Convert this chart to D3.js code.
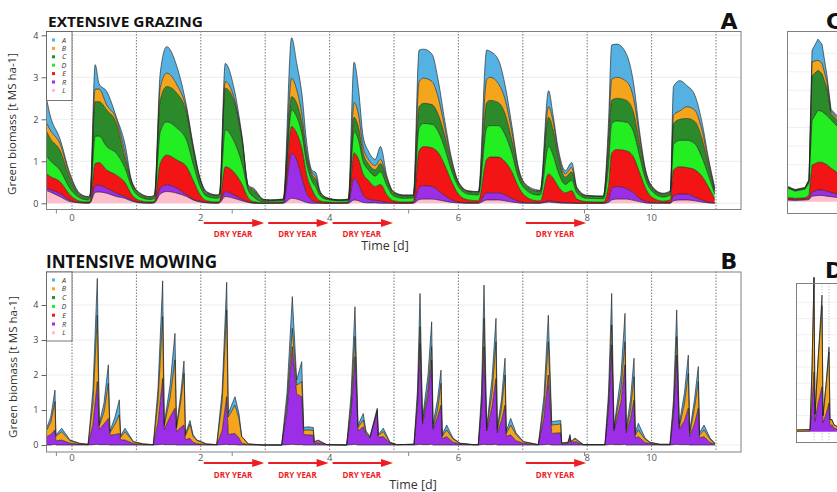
<!DOCTYPE html>
<html>
<head>
<meta charset="utf-8">
<title>Green biomass</title>
<script src="https://cdn.jsdelivr.net/npm/d3@7/dist/d3.min.js"></script>
<style>
  body { margin: 0; background: #fff; }
  svg { display: block; font-family: "Open Sans", "DejaVu Sans", sans-serif; }
</style>
</head>
<body>
<svg id="fig" width="837" height="492"></svg>
<script>
// legend order, top of the stack first
var species = ["A", "B", "C", "D", "E", "R", "L"];
var speciesColor = ["#56b1e3", "#f5a51c", "#2b8b2b", "#22ee22", "#f31515", "#9d2ee8", "#ffbccb"];
var stackOrder = ["L", "R", "E", "D", "C", "B", "A"];

var yearLines = [0, 1, 2, 3, 4, 5, 6, 7, 8, 9, 10];
var xLabelText = ["0", "2", "4", "6", "8", "10"];
var xLabelAt = [0, 2, 4, 6, 8, 9];
var xTickAt = [-0.25, 2.48, 5.22, 7.95];
var yTicks = [0, 1, 2, 3, 4];
var dryYears = [2, 3, 4, 7];

// A - extensive grazing (time in years, biomass t/ha per species)
var gzTime = [-0.39,-0.34,-0.19,-0.03,0.12,0.25,0.28,0.36,
  0.42,0.54,0.69,0.82,0.93,1.06,1.21,1.28,
  1.37,1.47,1.63,1.78,1.88,1.99,2.09,2.25,
  2.29,2.38,2.51,2.64,2.74,2.82,2.97,3.08,
  3.28,3.41,3.49,3.57,3.64,3.72,3.79,3.85,
  3.96,4.16,4.29,4.38,4.45,4.52,4.60,4.71,
  4.79,4.89,4.99,5.15,5.30,5.39,5.46,5.59,
  5.69,5.79,5.90,6.00,6.15,6.31,6.44,6.49,
  6.62,6.72,6.83,6.93,7.03,7.22,7.27,7.40,
  7.47,7.55,7.66,7.76,7.84,7.99,8.25,8.33,
  8.38,8.46,8.61,8.72,8.81,8.90,9.00,9.18,
  9.29,9.34,9.44,9.55,9.67,9.78,9.88,9.98];
var gzL = [.30,.27,.16,.04,.01,0,.01,.26,
  .27,.24,.16,.12,.05,.01,0,.01,
  .22,.28,.24,.16,.08,.03,.01,0,
  .01,.16,.12,.06,.02,0,0,0,
  0,.12,.10,.06,.02,0,0,0,
  0,0,0,.08,.06,.02,.01,.01,
  0,0,0,0,0,.09,.10,.10,
  .08,.05,.02,.01,0,0,.08,.08,
  .08,.06,.03,.01,0,0,0,.03,
  .02,.01,0,0,0,0,0,.02,
  .08,.10,.10,.07,.04,.01,0,0,
  0,.06,.08,.08,.06,.03,.01,0];
var gzR = [.06,.06,.08,.03,.01,.01,.01,.16,
  .16,.12,.08,.04,.03,.01,.01,.01,
  .14,.16,.12,.04,.02,.02,.01,.01,
  .01,.12,.08,.04,.01,.01,0,0,
  .01,1.07,.93,.54,.23,.08,.03,.01,
  0,0,.01,.52,.39,.18,.09,.06,
  .05,.02,.01,0,.01,.29,.32,.30,
  .22,.13,.06,.02,.01,.01,.17,.17,
  .17,.14,.09,.04,.02,.01,.01,.03,
  .03,.02,.02,.01,0,0,0,.06,
  .27,.30,.25,.18,.08,.04,.02,.01,
  .01,.12,.14,.14,.09,.05,.02,.01];
var gzE = [.34,.31,.28,.13,.03,.02,.03,.53,
  .54,.43,.43,.34,.12,.04,.02,.03,
  .59,.71,.67,.67,.45,.15,.04,.02,
  .03,.59,.55,.35,.09,.03,.01,.02,
  .02,.64,.64,.70,.45,.27,.12,.05,
  .03,.02,.02,.60,.60,.50,.45,.33,
  .40,.18,.05,.03,.03,.87,.93,.92,
  .90,.72,.42,.19,.07,.05,.80,.85,
  .85,.80,.63,.35,.16,.05,.05,.64,
  .55,.37,.23,.29,.10,.04,.03,.32,
  .85,.88,.90,.85,.63,.33,.13,.04,
  .07,.62,.65,.63,.65,.57,.37,.09];
var gzD = [.42,.38,.28,.15,.08,.05,.07,.65,
  .63,.56,.52,.35,.18,.09,.06,.07,
  .75,.79,.76,.63,.40,.20,.11,.09,
  .09,.88,.75,.50,.18,.11,.03,.03,
  .04,.39,.39,.35,.28,.20,.23,.12,
  .06,.04,.04,.50,.45,.30,.25,.25,
  .30,.22,.12,.09,.09,.55,.55,.56,
  .50,.40,.25,.18,.14,.14,.75,.75,
  .75,.65,.45,.22,.17,.14,.14,.65,
  .55,.35,.20,.25,.15,.08,.08,.50,
  .70,.68,.68,.60,.40,.22,.15,.10,
  .12,.60,.63,.65,.62,.45,.28,.12];
var gzC = [.58,.53,.47,.23,.07,.05,.05,.82,
  .82,.87,.71,.25,.10,.06,.04,.05,
  .75,.84,.83,.64,.35,.15,.07,.06,
  .06,.99,.96,.55,.08,.15,.04,.02,
  .02,.32,.32,.25,.17,.15,.17,.07,
  .03,.02,.02,.35,.30,.20,.15,.15,
  .20,.13,.07,.06,.05,.50,.48,.47,
  .40,.30,.15,.08,.06,.06,.60,.60,
  .55,.50,.30,.14,.08,.08,.08,.70,
  .60,.35,.17,.20,.08,.05,.05,.40,
  .55,.54,.52,.45,.30,.15,.08,.06,
  .06,.50,.50,.52,.53,.45,.24,.08];
var gzB = [.20,.20,.16,.07,.02,.02,.02,.30,
  .30,.12,.10,.13,.02,.02,.02,.02,
  .30,.32,.20,.08,.05,.02,.02,.01,
  .02,.16,.08,.05,.02,.03,.01,.01,
  .01,.44,.32,.20,.10,.05,.07,.02,
  .01,0,.01,.35,.30,.15,.10,.10,
  .10,.05,.02,.01,.01,.60,.60,.55,
  .40,.18,.07,.02,.01,.01,.55,.55,
  .45,.35,.20,.06,.03,.02,.02,.25,
  .20,.10,.08,.10,.03,.01,.01,.25,
  .50,.50,.45,.35,.17,.05,.02,.02,
  .02,.20,.20,.28,.27,.20,.10,.03];
var gzA = [.55,.35,.12,.05,.02,.01,.02,.58,
  .13,.32,.05,.20,.02,.01,.01,.01,
  .35,.63,.43,.08,.05,.03,.02,.01,
  .02,.43,.24,.05,.02,.03,.01,0,
  0,.96,.63,.50,.25,.05,.10,.03,
  0,0,0,.96,.60,.25,.20,.15,
  .30,.05,.01,.01,.01,.75,.69,.65,
  .40,.17,.06,.02,.01,.01,.70,.62,
  .57,.35,.15,.05,.02,.02,.01,.38,
  .15,.10,.08,.12,.02,.01,0,.35,
  .82,.79,.65,.36,.13,.05,.02,.01,
  .02,.68,.72,.50,.36,.20,.08,.05];

// B - intensive mowing (C, D, E are absent)
var mwTime = [-0.39,-0.33,-0.264,-0.25,-0.16,-0.03,0.12,0.25,0.326,0.393,0.424,
  0.497,0.564,0.59,0.668,0.735,0.756,0.823,0.952,1.107,1.262,1.335,
  1.408,1.433,1.522,1.599,1.623,1.685,1.739,1.762,1.832,1.879,1.936,
  2.09,2.247,2.33,2.402,2.427,2.531,2.593,2.635,2.738,2.97,3.256,
  3.339,3.421,3.489,3.567,3.598,3.665,3.747,3.762,3.824,3.955,4.265,
  4.332,4.394,4.441,4.523,4.565,4.627,4.74,4.756,4.834,4.938,5.042,
  5.311,5.365,5.404,5.443,5.528,5.585,5.606,5.676,5.73,5.75,5.818,
  5.916,6.025,6.231,6.309,6.359,6.398,6.439,6.522,6.584,6.604,6.669,
  6.724,6.744,6.812,6.894,7.008,7.216,7.241,7.329,7.396,7.449,7.589,
  7.604,7.702,7.733,7.748,7.81,7.94,8.276,8.331,8.38,8.416,8.525,
  8.587,8.607,8.672,8.727,8.747,8.794,8.898,8.975,9.13,9.286,9.34,
  9.39,9.43,9.511,9.57,9.592,9.666,9.725,9.745,9.814,9.907,9.984];
var mwL = [0,0,.02,0,0,0,0,0,.01,.02,.01,
  .01,.01,0,0,0,0,0,0,0,0,.01,
  .02,.01,.01,.01,0,0,0,0,0,0,0,
  0,0,.01,.02,.01,.01,0,0,0,0,0,
  .01,.02,.01,.01,0,0,0,0,0,0,0,
  .01,.02,0,0,0,0,0,0,0,0,0,
  0,.01,.02,.01,.01,.02,0,0,0,0,0,
  0,0,0,0,.01,.02,.01,.01,.02,0,0,
  0,0,0,0,0,0,0,.01,.02,0,0,
  0,0,0,0,0,0,0,.01,.02,.01,.01,
  .02,0,0,0,0,0,0,0,0,0,.01,
  .02,.01,.01,.01,0,0,0,0,0,0,0];
var mwR = [.24,.30,.41,.12,.14,.05,.02,.01,.59,1.79,.44,
  .59,.75,.28,.30,.33,.15,.14,.04,.01,.01,.64,
  1.88,.44,.79,1.04,.38,.50,.57,.15,.19,.08,.04,
  .01,.01,.39,1.36,.29,.32,.20,.05,.01,0,0,
  .99,2.79,1.45,1.37,.30,.29,.28,.05,.07,.01,0,
  .89,2.50,.40,.52,.30,.20,.95,.22,.24,.05,.01,
  .02,1.09,2.88,.59,1.39,2.41,.45,.80,1.14,.18,.24,
  .08,.03,.01,.01,.99,2.79,.39,1.09,1.88,.35,.70,
  1.14,.25,.29,.12,.05,.01,.01,.79,1.98,.33,.35,
  .03,.05,.20,.06,.10,.01,.01,.99,2.84,.39,1.24,
  2.27,.35,.75,1.29,.20,.24,.07,.04,.01,.01,.84,
  2.55,.44,.69,1.04,.25,.60,1.05,.20,.24,.07,.03];
var mwB = [.19,.35,.81,.13,.24,.07,.02,.01,.60,1.90,.10,
  .35,1.00,.07,.30,.53,.07,.24,.05,.02,0,.60,
  1.77,.10,.55,1.38,.10,.70,1.48,.12,.40,.17,.09,
  .02,0,.80,2.48,.50,.81,.55,.19,.02,0,0,
  .20,.52,.25,.43,.12,.14,.14,.03,.05,0,0,
  .20,.58,.10,.19,.05,.02,.05,.05,.14,.02,0,
  0,.20,.48,.08,.20,.38,.05,.20,.62,.07,.19,
  .09,.02,0,0,.20,.81,.05,.40,1.05,.07,.35,
  .86,.08,.28,.18,.04,.01,0,.30,.95,.24,.25,
  .02,.02,.06,.03,.07,0,0,.20,.57,.05,.35,
  .66,.07,.25,.66,.08,.19,.09,.03,.01,.01,.20,
  .53,.05,.50,1.00,.08,.45,.76,.08,.19,.09,.02];
var mwA = [.07,.15,.33,.04,.10,.02,.01,0,.40,1.05,.07,
  .25,.53,.05,.20,.43,.05,.10,.01,0,0,.35,
  1.02,.07,.35,.76,.07,.20,.35,.05,.11,.05,.02,
  0,0,.30,.79,.10,.24,.15,.01,0,0,0,
  .30,.91,.15,.57,.08,.09,.08,.02,.02,0,0,
  .30,.85,.07,.19,.05,.03,.05,.03,.10,.01,0,
  0,.30,.95,.08,.40,.71,.10,.30,.38,.05,.14,
  .03,0,0,0,.30,.95,.05,.40,.67,.08,.25,
  .48,.07,.19,.05,.01,0,0,.30,.76,.10,.10,
  .01,.01,.04,.01,.03,0,0,.30,.90,.05,.40,
  .81,.08,.30,.53,.07,.19,.04,.01,0,0,.25,
  .76,.10,.30,.52,.07,.25,.43,.07,.14,.04,0];

// C - zoom on one grazing season (days)
var cTime = [0, 8, 18, 22, 25, 31, 35, 40, 44, 50];
var cL = [.04,.03,.04,.05,.13,.15,.15,.13,.12,.10];
var cR = [.02,.02,.02,.03,.10,.13,.13,.12,.10,.08];
var cE = [.04,.03,.03,.07,.64,.66,.66,.63,.58,.52];
var cD = [.23,.17,.21,.30,1.07,1.24,1.21,1.17,1.15,1.10];
var cC = [.02,.02,.02,.05,1.06,.95,.90,.65,.15,.15];
var cB = [.01,.01,.01,.02,.33,.24,.25,.15,.05,.05];
var cA = [.01,.01,.01,.01,.27,.50,.45,.15,.05,.05];
var cGrid = [0.5, 1, 1.5, 2, 2.5, 3, 3.5, 4];

// D - zoom on one mowing season (days)
var dTime = [0, 14, 16, 18, 19, 22, 26, 27, 30, 33, 34, 36, 38, 44];
var dR = [0,.02,.8,1.7,.3,.8,1.28,.25,.5,.82,.15,.2,.1,.05];
var dB = [.05,.04,1.0,2.7,.2,1.2,2.32,.2,.8,1.46,.2,.13,.1,.05];
var dA = [0,0,.05,.02,0,.05,.3,.02,.05,.14,0,.02,0,0];
var dCuts = [18, 26, 33];

var svg = d3.select("#fig");
var color = d3.scaleOrdinal().domain(species).range(speciesColor);
var x = d3.scaleLinear().domain([0, 10]).range([72, 716]);
var frameL = 47, frameR = 741;
var red = "#ee1d23";

function buildRows(time, cols) {
  return time.map(function (t, i) {
    var r = { t: t };
    stackOrder.forEach(function (k) { r[k] = cols[k] ? cols[k][i] : 0; });
    return r;
  });
}

function drawLayers(g, rows, xs, ys, curve) {
  var layers = d3.stack().keys(stackOrder)(rows);
  var area = d3.area().curve(curve)
    .x(function (d) { return xs(d.data.t); })
    .y0(function (d) { return ys(d[0]); })
    .y1(function (d) { return ys(d[1]); });
  var edge = d3.line().curve(curve)
    .x(function (d) { return xs(d.data.t); })
    .y(function (d) { return ys(d[1]); });
  g.selectAll(".area").data(layers).enter().append("path")
    .attr("class", "area").attr("d", area)
    .attr("fill", function (d) { return color(d.key); });
  // outline only the layers that are present
  var present = layers.filter(function (l) { return l.some(function (d) { return d[1] > d[0]; }); });
  g.selectAll(".edge").data(present).enter().append("path")
    .attr("class", "edge").attr("d", edge).attr("fill", "none")
    .attr("stroke", "#1e1e1e").attr("stroke-width", 0.75).attr("stroke-opacity", 0.85);
}

function drawPanel(p) {
  var y = d3.scaleLinear().domain([0, 4]).range([p.zero, p.zero - 4 * p.unit]);
  var g = svg.append("g");
  var clipId = "clip" + p.letter;
  svg.append("clipPath").attr("id", clipId).append("rect")
    .attr("x", frameL).attr("y", p.top).attr("width", frameR - frameL).attr("height", p.bottom - p.top);

  g.selectAll(".hgrid").data(yTicks).enter().append("line")
    .attr("x1", frameL).attr("x2", frameR)
    .attr("y1", function (d) { return y(d); }).attr("y2", function (d) { return y(d); })
    .attr("stroke", "#e9e9e9").attr("stroke-width", 0.8);
  g.selectAll(".vgrid").data(yearLines).enter().append("line")
    .attr("x1", function (d) { return x(d); }).attr("x2", function (d) { return x(d); })
    .attr("y1", p.top).attr("y2", p.bottom)
    .attr("stroke", "#555").attr("stroke-width", 0.8).attr("stroke-dasharray", "1.5,1.5");

  var plot = g.append("g").attr("clip-path", "url(#" + clipId + ")");
  drawLayers(plot, p.rows, x, y, p.curve);

  g.append("rect").attr("x", frameL - 0.5).attr("y", p.top + 0.5)
    .attr("width", frameR - frameL + 0.5).attr("height", p.bottom - p.top)
    .attr("fill", "none").attr("stroke", "#808080").attr("stroke-width", 1);

  var ya = g.append("g").attr("transform", "translate(" + (frameL - 0.5) + ",0)")
    .call(d3.axisLeft(y).tickValues(yTicks).tickSize(5).tickPadding(3).tickFormat(d3.format("d")));
  ya.attr("font-family", null).attr("font-size", 9);
  ya.select(".domain").remove();
  ya.selectAll("line").attr("stroke", "#666");
  ya.selectAll("text").attr("fill", "#444");

  var xa = g.append("g").attr("transform", "translate(0," + (p.bottom + 0.5) + ")")
    .call(d3.axisBottom(x).tickValues(xTickAt).tickSize(4).tickFormat(""));
  xa.select(".domain").remove();
  xa.selectAll("line").attr("stroke", "#888");
  g.selectAll(".xlab").data(xLabelText).enter().append("text")
    .attr("x", function (d, i) { return x(xLabelAt[i]); })
    .attr("y", p.tickLabelY).attr("text-anchor", "middle")
    .attr("font-size", 9.5).attr("fill", "#555").text(function (d) { return d; });

  // legend
  var lg = g.append("g");
  lg.append("rect").attr("x", frameL - 0.5).attr("y", p.top + 0.5)
    .attr("width", 25.5).attr("height", 69)
    .attr("fill", "#fff").attr("stroke", "#555").attr("stroke-width", 0.8);
  var items = lg.selectAll(".item").data(species).enter().append("g")
    .attr("transform", function (d, i) { return "translate(0," + (p.legendRow0 + i * p.legendStep) + ")"; });
  items.append("rect").attr("x", 52).attr("y", -1.5).attr("width", 3).attr("height", 3)
    .attr("fill", function (d) { return color(d); });
  items.append("text").attr("x", 64).attr("y", 2.6).attr("text-anchor", "middle")
    .attr("font-size", 7.2).attr("font-style", "italic").attr("fill", "#333")
    .text(function (d) { return d; });

  // titles
  g.append("text").attr("x", p.titleX).attr("y", p.titleY)
    .attr("font-size", p.titleSize).attr("font-weight", "bold").attr("fill", "#111")
    .attr("textLength", p.titleLen).attr("lengthAdjust", "spacingAndGlyphs").text(p.title);
  g.append("text").attr("x", 729).attr("y", p.letterY).attr("text-anchor", "middle")
    .attr("font-family", "DejaVu Sans").attr("font-size", 22).attr("font-weight", "bold")
    .attr("fill", "#111").text(p.letter);
  g.append("text").attr("transform", "translate(" + p.ytitleX + "," + p.ytitleY + ") rotate(-90)")
    .attr("text-anchor", "middle").attr("font-size", 11.5).attr("fill", "#333")
    .text("Green biomass [t MS ha-1]");
  g.append("text").attr("x", p.timeX).attr("y", p.timeY).attr("text-anchor", "middle")
    .attr("font-size", 12.5).attr("fill", "#333").text("Time [d]");

  // dry year arrows
  var ar = g.selectAll(".dry").data(dryYears).enter().append("g");
  ar.append("line")
    .attr("x1", function (d) { return x(d) + 3; }).attr("x2", function (d) { return x(d + 1) - 10; })
    .attr("y1", p.arrowY).attr("y2", p.arrowY).attr("stroke", red).attr("stroke-width", 2);
  ar.append("path").attr("fill", red).attr("d", function (d) {
    var e = x(d + 1) - 1;
    return "M" + (e - 12) + "," + (p.arrowY - 4) + "L" + e + "," + p.arrowY + "L" + (e - 12) + "," + (p.arrowY + 4) + "Z";
  });
  ar.append("text").attr("x", function (d) { return (x(d) + x(d + 1)) / 2; })
    .attr("y", p.arrowTextY).attr("text-anchor", "middle")
    .attr("font-size", 8).attr("font-weight", "bold").attr("fill", red).text("DRY YEAR");
}

drawPanel({
  letter: "A", title: "EXTENSIVE GRAZING", titleX: 48, titleY: 27, titleSize: 14, titleLen: 155,
  top: 31, bottom: 209, zero: 203.3, unit: 42, letterY: 29,
  rows: buildRows(gzTime, { L: gzL, R: gzR, E: gzE, D: gzD, C: gzC, B: gzB, A: gzA }),
  curve: d3.curveMonotoneX,
  legendRow0: 40, legendStep: 8.4, tickLabelY: 220.5,
  arrowY: 223, arrowTextY: 237, timeX: 385, timeY: 250, ytitleX: 16, ytitleY: 124
});

drawPanel({
  letter: "B", title: "INTENSIVE MOWING", titleX: 46, titleY: 268, titleSize: 18, titleLen: 171,
  top: 271.5, bottom: 451.5, zero: 445, unit: 35, letterY: 269,
  rows: buildRows(mwTime, { L: mwL, R: mwR, B: mwB, A: mwA }),
  curve: d3.curveLinear,
  legendRow0: 280, legendStep: 8.8, tickLabelY: 461,
  arrowY: 463, arrowTextY: 477.5, timeX: 413, timeY: 489, ytitleX: 17, ytitleY: 367
});

// side panels C and D, cut by the right edge
function drawSide(s) {
  var xs = d3.scaleLinear().domain([0, 100]).range([s.left, s.left + 100]);
  var ys = d3.scaleLinear().domain([0, 4]).range([s.zero, s.zero - 4 * s.unit]);
  var g = svg.append("g");
  var clipId = "clip" + s.letter;
  svg.append("clipPath").attr("id", clipId).append("rect")
    .attr("x", s.left).attr("y", s.top - 10).attr("width", 120).attr("height", s.bottom - s.top + 10);
  g.selectAll(".hgrid").data(cGrid).enter().append("line")
    .attr("x1", s.left).attr("x2", s.left + 120)
    .attr("y1", function (d) { return s.zero - (s.zero - s.top) * d / 4.6; })
    .attr("y2", function (d) { return s.zero - (s.zero - s.top) * d / 4.6; })
    .attr("stroke", "#ececec").attr("stroke-width", 0.8);
  g.selectAll(".cut").data(s.cuts).enter().append("line")
    .attr("x1", function (d) { return xs(d); }).attr("x2", function (d) { return xs(d); })
    .attr("y1", s.top).attr("y2", s.bottom)
    .attr("stroke", "#bbb").attr("stroke-width", 0.8).attr("stroke-dasharray", "1.5,1.5");
  var plot = g.append("g").attr("clip-path", "url(#" + clipId + ")");
  drawLayers(plot, s.rows, xs, ys, d3.curveLinear);
  g.append("rect").attr("x", s.left + 0.5).attr("y", s.top + 0.5)
    .attr("width", 120).attr("height", s.bottom - s.top)
    .attr("fill", "none").attr("stroke", "#808080").attr("stroke-width", 1);
  g.append("text").attr("x", s.letterX).attr("y", s.letterY)
    .attr("font-family", "DejaVu Sans").attr("font-size", 22).attr("font-weight", "bold")
    .attr("fill", "#111").text(s.letter);
}

drawSide({
  letter: "C", left: 787, top: 31, bottom: 213, zero: 201.7, unit: 42,
  letterX: 826, letterY: 29, cuts: [],
  rows: buildRows(cTime, { L: cL, R: cR, E: cE, D: cD, C: cC, B: cB, A: cA })
});
drawSide({
  letter: "D", left: 796, top: 283, bottom: 442, zero: 431.7, unit: 35,
  letterX: 825, letterY: 278, cuts: dCuts,
  rows: buildRows(dTime, { R: dR, B: dB, A: dA })
});
</script>
</body>
</html>
